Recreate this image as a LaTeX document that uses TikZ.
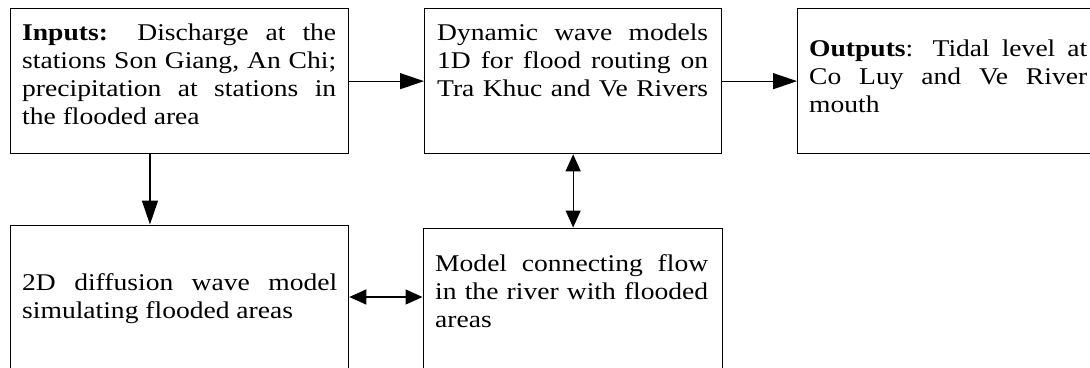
\documentclass[tikz,border=0pt]{standalone}
\usepackage{fontspec}
\setmainfont{Liberation Serif}
\newfontfamily\tnr[FakeStretch=1.148]{Liberation Serif}
\usetikzlibrary{arrows.meta,calc}
\tikzset{
  boxnode/.style={draw, line width=1.3pt, inner sep=0pt, anchor=north west},
  txt/.style={inner sep=0pt, anchor=base west, font=\tnr\fontsize{24}{28}\selectfont},
  arr/.style={line width=1.3pt, -{Triangle[length=24pt,width=16pt]}},
  darr/.style={line width=1.3pt, {Triangle[length=17pt,width=15pt]}-{Triangle[length=17pt,width=15pt]}},
}
\newcommand{\jl}[2]{\makebox[#1][s]{#2}}
\begin{document}
\begin{tikzpicture}[x=1pt,y=-1pt]
\useasboundingbox (0,0) rectangle (1090,367);
\clip (0,0) rectangle (1090,367);
% boxes
\node[boxnode, minimum width=338pt, minimum height=145pt] (b1) at (10,8) {};
\node[boxnode, minimum width=297pt, minimum height=145pt] (b2) at (424,8) {};
\node[boxnode, minimum width=303pt, minimum height=145pt] (b3) at (797,8) {};
\node[boxnode, minimum width=338pt, minimum height=160pt] (b4) at (10,224.5) {};
\node[boxnode, minimum width=299pt, minimum height=160pt] (b5) at (422.5,227.5) {};
% texts
\node[txt] (t1) at (22,40) {\parbox[t]{314pt}{%
\jl{314pt}{\textbf{Inputs:} Discharge at the}\\
\jl{314pt}{stations Son Giang, An Chi;}\\
\jl{314pt}{precipitation at stations in}\\
the flooded area}};
\node[txt] (t2) at (437,40) {\parbox[t]{271pt}{%
\jl{271pt}{Dynamic wave models}\\
\jl{271pt}{1D for flood routing on}\\
\jl{271pt}{Tra Khuc and Ve Rivers}}};
\node[txt] (t3) at (809,56) {\parbox[t]{278pt}{%
\jl{278pt}{\textbf{Outputs}: Tidal level at}\\
\jl{278pt}{Co Luy and Ve River}\\
mouth}};
\node[txt] (t4) at (22,290) {\parbox[t]{315pt}{%
\jl{315pt}{2D diffusion wave model}\\
simulating flooded areas}};
\node[txt] (t5) at (435,271) {\parbox[t]{273pt}{%
\jl{273pt}{Model connecting flow}\\
\jl{273pt}{in the river with flooded}\\
areas}};
% connectors
\draw[arr] (b1.east) -- (b2.west);
\draw[arr] (b2.east) -- (b3.west);
\coordinate (d1) at ($(b1.south west)!0.4125!(b1.south east)$);
\draw[arr] (d1) -- (d1 |- b4.north);
\draw[darr] (b2.south) -- (b2.south |- b5.north);
\coordinate (hy) at (0,297);
\draw[darr] (b4.east |- hy) -- (b5.west |- hy);
\end{tikzpicture}
\end{document}
